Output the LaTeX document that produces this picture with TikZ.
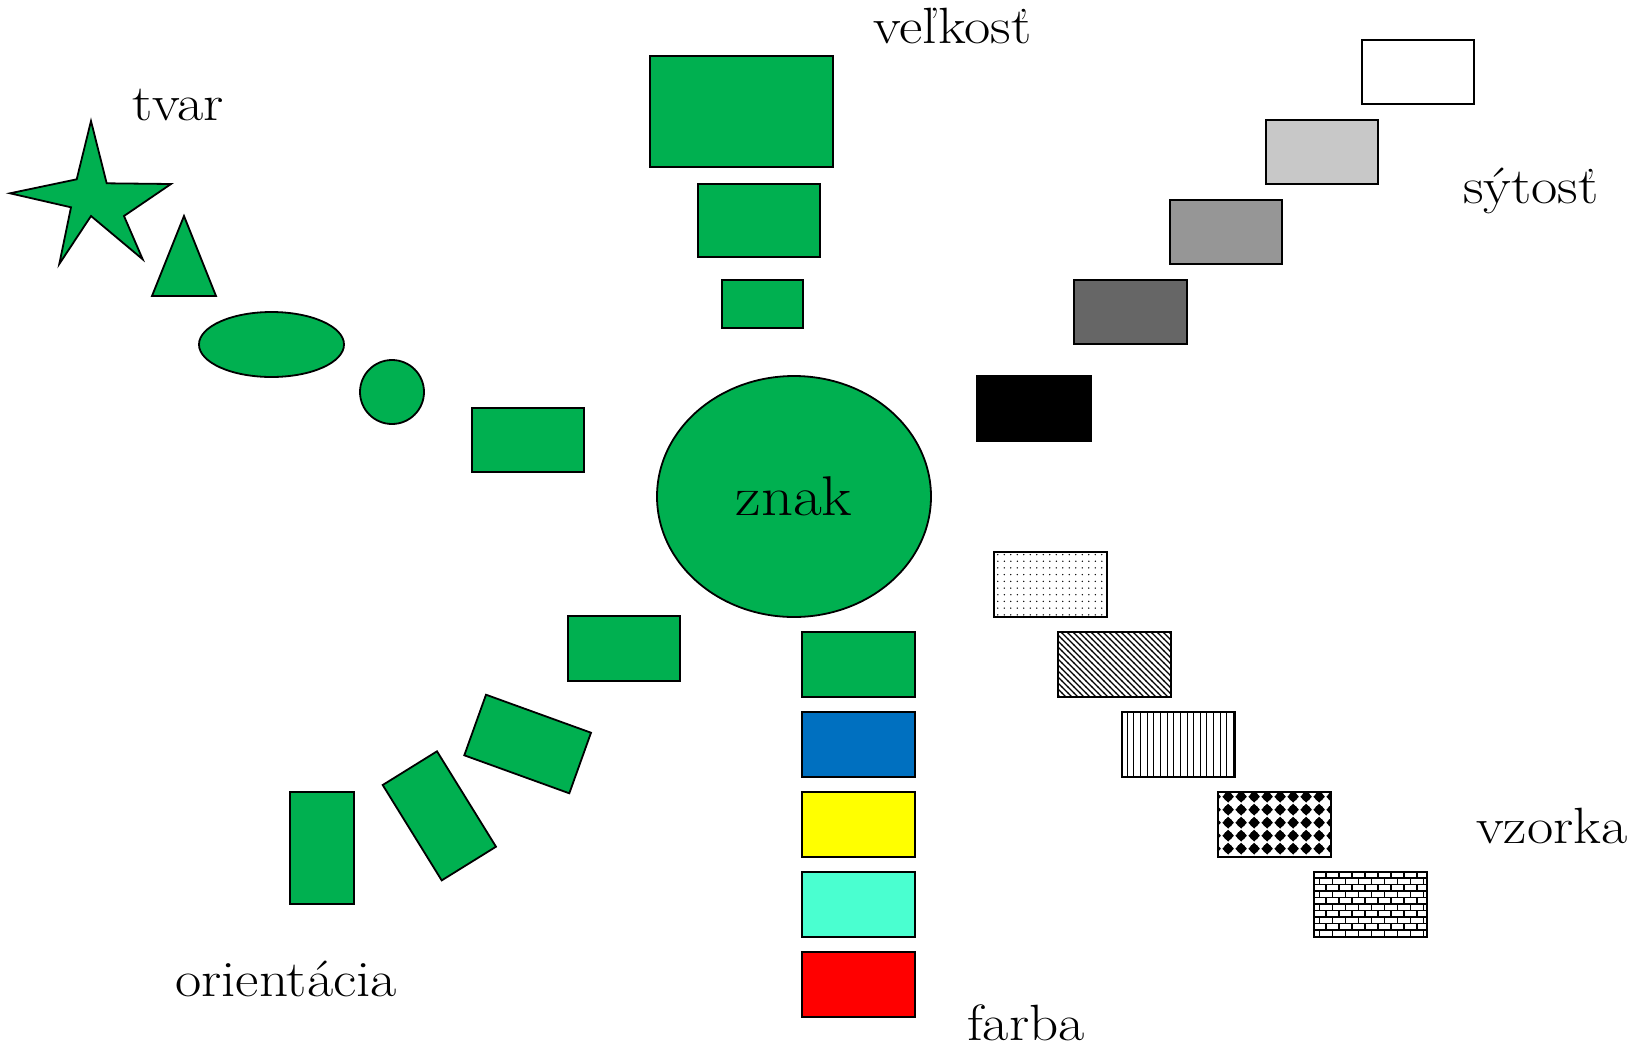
\documentclass[tikz,border=0pt]{standalone}
\usepackage{fontspec}
\newfontfamily\sirokyfont{Latin Modern Roman}[FakeStretch=1.12]
\usetikzlibrary{patterns,shapes.geometric}

\definecolor{zelena}{RGB}{0,176,80}
\definecolor{modra}{RGB}{0,112,192}
\definecolor{zlta}{RGB}{255,255,0}
\definecolor{tyrkys}{RGB}{74,255,208}
\definecolor{cervena}{RGB}{255,0,0}
\definecolor{svetlosiva}{RGB}{200,200,200}
\definecolor{strednesiva}{RGB}{150,150,150}
\definecolor{tmavosiva}{RGB}{102,102,102}

% fine dots
\pgfdeclarepatternformonly{vzbodky}{\pgfqpoint{-1pt}{-1pt}}{\pgfqpoint{7.5pt}{7.7pt}}{\pgfqpoint{6.5pt}{6.7pt}}{%
  \pgfpathcircle{\pgfqpoint{3.25pt}{3.35pt}}{0.75pt}\pgfusepath{fill}}
% diagonal hatching, top left to bottom right
\pgfdeclarepatternformonly{vzsikmo}{\pgfqpoint{-1pt}{-1pt}}{\pgfqpoint{7pt}{7pt}}{\pgfqpoint{6pt}{6pt}}{%
  \pgfsetlinewidth{1.3pt}%
  \pgfpathmoveto{\pgfqpoint{-0.2pt}{6.2pt}}\pgfpathlineto{\pgfqpoint{6.2pt}{-0.2pt}}\pgfusepath{stroke}}
% vertical lines
\pgfdeclarepatternformonly{vzzvislo}{\pgfqpoint{0pt}{-1pt}}{\pgfqpoint{6.65pt}{7.65pt}}{\pgfqpoint{6.65pt}{6.65pt}}{%
  \pgfsetlinewidth{1pt}%
  \pgfpathmoveto{\pgfqpoint{3.3pt}{-1pt}}\pgfpathlineto{\pgfqpoint{3.3pt}{7.65pt}}\pgfusepath{stroke}}
% round black blobs with pointed tips
\pgfdeclarepatternformonly{vzkaro}{\pgfqpoint{0pt}{0pt}}{\pgfqpoint{12.6pt}{12.8pt}}{\pgfqpoint{12.6pt}{12.8pt}}{%
  \pgfpathcircle{\pgfqpoint{6.3pt}{6.4pt}}{4.6pt}\pgfusepath{fill}%
  \pgfpathmoveto{\pgfqpoint{0.4pt}{6.4pt}}\pgfpathlineto{\pgfqpoint{6.3pt}{0.4pt}}%
  \pgfpathlineto{\pgfqpoint{12.2pt}{6.4pt}}\pgfpathlineto{\pgfqpoint{6.3pt}{12.4pt}}\pgfpathclose\pgfusepath{fill}}
% brick wall
\pgfdeclarepatternformonly{vztehly}{\pgfqpoint{-1pt}{-1pt}}{\pgfqpoint{14pt}{14pt}}{\pgfqpoint{13pt}{13pt}}{%
  \pgfsetlinewidth{1.8pt}%
  \pgfpathmoveto{\pgfqpoint{-1pt}{0pt}}\pgfpathlineto{\pgfqpoint{14pt}{0pt}}%
  \pgfpathmoveto{\pgfqpoint{-1pt}{6.5pt}}\pgfpathlineto{\pgfqpoint{14pt}{6.5pt}}%
  \pgfpathmoveto{\pgfqpoint{0pt}{0pt}}\pgfpathlineto{\pgfqpoint{0pt}{6.5pt}}%
  \pgfpathmoveto{\pgfqpoint{6.5pt}{6.5pt}}\pgfpathlineto{\pgfqpoint{6.5pt}{13pt}}%
  \pgfusepath{stroke}}

\begin{document}
\begin{tikzpicture}[x=1pt,y=-1pt,
  obrys/.style={draw=black, line width=1.8pt},
  zfill/.style={obrys, fill=zelena},
  vzor/.style={obrys, pattern=#1, pattern color=black},
  popis/.style={anchor=base west, inner sep=0pt, font=\sirokyfont\fontsize{51}{61}\selectfont}]
\useasboundingbox (0,0) rectangle (1635,1047);

% central sign
\node[zfill, ellipse, minimum width=274pt, minimum height=241pt, inner sep=0pt,
      font=\sirokyfont\fontsize{56}{67}\selectfont] (znak) at (794,496.5) {znak};

% shape
\draw[zfill] (91,121) -- (106.7,183.3) -- (171,184) -- (124,216) -- (142.7,259.3)
  -- (91,216) -- (59.3,264) -- (71,207.3) -- (10,193.3) -- (76.7,179.3) -- cycle;
\draw[zfill] (184,216) -- (216,296) -- (152,296) -- cycle;
\draw[zfill] (271.5,344.5) ellipse [x radius=72.5, y radius=32.5];
\draw[zfill] (392,392) circle [radius=32];
\draw[zfill] (472,408) rectangle (584,472);

% size
\draw[zfill] (650,56) rectangle (833,167);
\draw[zfill] (698,184) rectangle (820,257);
\draw[zfill] (722,280) rectangle (803,328);

% value
\draw[obrys, fill=white] (1362,40) rectangle (1474,104);
\draw[obrys, fill=svetlosiva] (1266,120) rectangle (1378,184);
\draw[obrys, fill=strednesiva] (1170,200) rectangle (1282,264);
\draw[obrys, fill=tmavosiva] (1074,280) rectangle (1187,344);
\draw[obrys, fill=black] (977,376) rectangle (1091,441);

% texture
\draw[vzor=vzbodky] (994,552) rectangle (1107,617);
\draw[vzor=vzsikmo] (1058,632) rectangle (1171,697);
\draw[vzor=vzzvislo] (1122,712) rectangle (1235,777);
\draw[vzor=vzkaro] (1218,792) rectangle (1331,857);
\draw[vzor=vztehly] (1314,872) rectangle (1427,937);

% colour
\draw[zfill] (802,632) rectangle (915,697);
\draw[obrys, fill=modra] (802,712) rectangle (915,777);
\draw[obrys, fill=zlta] (802,792) rectangle (915,857);
\draw[obrys, fill=tyrkys] (802,872) rectangle (915,937);
\draw[obrys, fill=cervena] (802,952) rectangle (915,1017);

% orientation
\draw[zfill] (568,616) rectangle (680,681);
\draw[zfill] (486,694.7) -- (591,732.7) -- (569.3,793.3) -- (464.3,755.3) -- cycle;
\draw[zfill] (382.7,785) -- (437,751.3) -- (496,846.7) -- (441.7,880.4) -- cycle;
\draw[zfill] (290,792) rectangle (354,904);

% labels
\node[popis] (tvar) at (132,120) {tvar};
\node[popis] (velkost) at (873,43) {veľkosť};
\node[popis] (sytost) at (1463,203) {sýtosť};
\node[popis] (vzorka) at (1476,843) {vzorka};
\node[popis] (orientacia) at (175,996) {orientácia};
\node[popis] (farba) at (967,1040) {farba};
\end{tikzpicture}
\end{document}
